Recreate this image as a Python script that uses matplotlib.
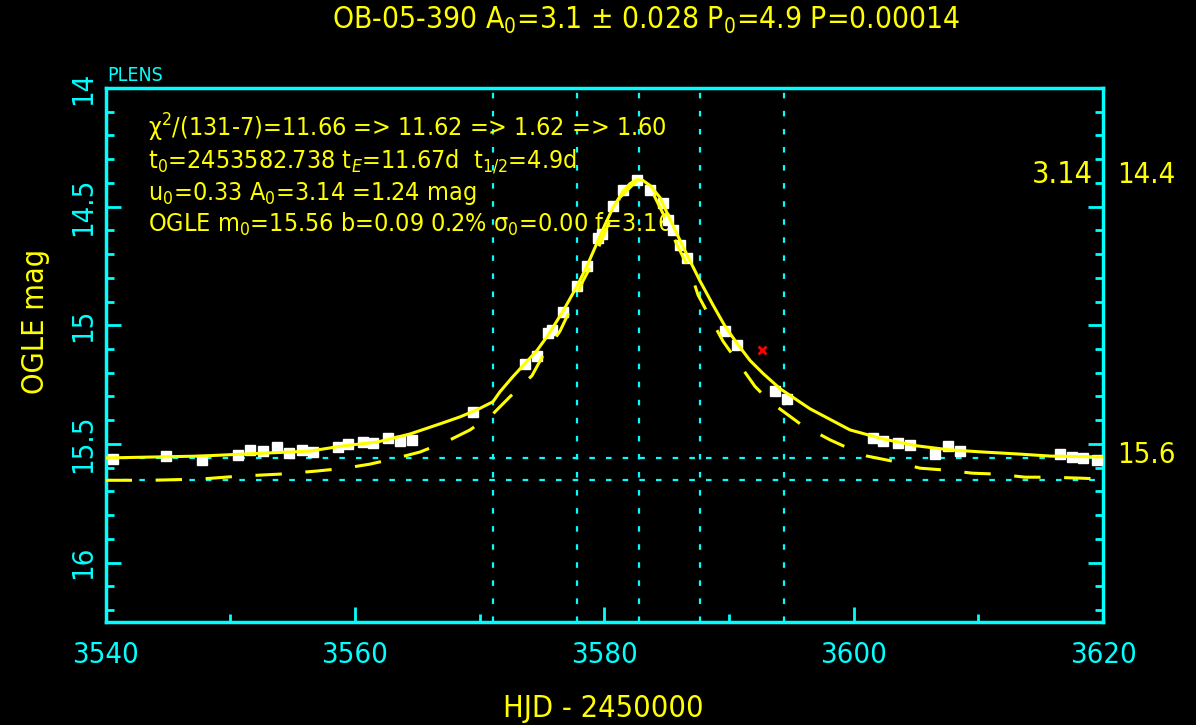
import numpy as np
import matplotlib
matplotlib.use('Agg')
import matplotlib.pyplot as plt
from matplotlib.ticker import MultipleLocator

plt.rcParams['font.family'] = ['DejaVu Sans']
plt.rcParams['font.stretch'] = 'condensed'
plt.rcParams['mathtext.fontset'] = 'custom'
plt.rcParams['mathtext.rm'] = 'DejaVu Sans:stretch=condensed'
plt.rcParams['mathtext.it'] = 'DejaVu Sans:italic:stretch=condensed'
plt.rcParams['lines.scale_dashes'] = False

CYAN = '#00ffff'
YEL = '#ffff00'

# OGLE photometry (HJD - 2450000, mag, err)
hjd = [3540.59, 3544.84, 3547.73, 3550.62, 3551.58, 3552.62, 3553.74, 3554.71,
       3555.75, 3556.63, 3558.64, 3559.44, 3560.64, 3561.44, 3562.65, 3563.61,
       3564.57, 3569.47, 3573.64, 3574.60, 3575.48, 3575.80, 3576.68, 3577.81,
       3578.61, 3579.49, 3579.81, 3580.70, 3581.49, 3582.62, 3583.67, 3584.71,
       3585.11, 3585.51, 3586.07, 3586.63, 3589.68, 3590.64, 3593.68, 3594.64,
       3601.54, 3602.34, 3603.55, 3604.51, 3606.52, 3607.56, 3608.52, 3616.54,
       3617.50, 3618.38, 3619.50]
mag = [15.564, 15.551, 15.568, 15.547, 15.525, 15.530, 15.513, 15.538,
       15.525, 15.534, 15.513, 15.500, 15.492, 15.496, 15.475, 15.487,
       15.483, 15.364, 15.161, 15.131, 15.034, 15.021, 14.945, 14.835,
       14.750, 14.631, 14.614, 14.496, 14.432, 14.386, 14.432, 14.483,
       14.555, 14.597, 14.661, 14.716, 15.025, 15.085, 15.275, 15.309,
       15.475, 15.487, 15.496, 15.504, 15.542, 15.508, 15.530, 15.542,
       15.555, 15.559, 15.568]
err = [0.012, 0.015, 0.012, 0.012, 0.018, 0.012, 0.018, 0.012,
       0.015, 0.012, 0.012, 0.015, 0.012, 0.012, 0.015, 0.012,
       0.012, 0.012, 0.010, 0.010, 0.010, 0.010, 0.010, 0.010,
       0.010, 0.010, 0.010, 0.010, 0.010, 0.008, 0.008, 0.010,
       0.010, 0.010, 0.010, 0.010, 0.010, 0.010, 0.010, 0.010,
       0.012, 0.012, 0.012, 0.012, 0.012, 0.015, 0.012, 0.015,
       0.012, 0.012, 0.012]

# rejected point
bad_hjd = [3592.64]
bad_mag = [15.106]

# fitted model curve (solid)
fit_t = [3540.0, 3547.57, 3556.39, 3559.04, 3561.77, 3564.41, 3567.06, 3568.42,
         3569.79, 3571.07, 3571.63, 3572.67, 3573.64, 3574.60, 3575.48, 3576.68,
         3577.81, 3578.61, 3579.49, 3580.05, 3580.70, 3581.49, 3582.06, 3582.62,
         3583.10, 3583.67, 3584.47, 3585.51, 3586.63, 3587.68, 3588.72, 3589.68,
         3590.64, 3591.68, 3592.73, 3594.09, 3596.50, 3599.71, 3602.36, 3605.08,
         3607.73, 3610.38, 3613.10, 3615.75, 3620.0]
fit_mag = [15.559, 15.551, 15.530, 15.508, 15.492, 15.458, 15.411, 15.386,
           15.356, 15.322, 15.280, 15.216, 15.161, 15.106, 15.042, 14.941,
           14.835, 14.750, 14.644, 14.576, 14.504, 14.436, 14.403, 14.386,
           14.390, 14.411, 14.462, 14.581, 14.703, 14.814, 14.915, 15.004,
           15.076, 15.148, 15.203, 15.267, 15.352, 15.441, 15.479, 15.508,
           15.525, 15.534, 15.542, 15.551, 15.555]

# unblended model curve (dashed)
alt_t = [3540.0, 3543.56, 3547.57, 3550.62, 3553.99, 3556.95, 3559.20, 3561.20,
         3563.37, 3565.21, 3567.46, 3569.22, 3571.07, 3572.43, 3574.20, 3575.08,
         3576.44, 3577.40, 3578.28, 3578.84, 3580.20, 3581.24, 3582.62, 3583.67,
         3584.87, 3585.83, 3586.88, 3587.52, 3588.64, 3589.53, 3590.89, 3592.09,
         3593.29, 3595.70, 3598.11, 3599.71, 3601.07, 3603.08, 3605.32, 3607.33,
         3609.50, 3611.50, 3613.75, 3615.75, 3618.16, 3620.0]
alt_mag = [15.653, 15.653, 15.648, 15.636, 15.627, 15.614, 15.602, 15.585,
           15.559, 15.534, 15.487, 15.441, 15.373, 15.301, 15.212, 15.127,
           15.025, 14.919, 14.814, 14.758, 14.589, 14.462, 14.390, 14.419,
           14.547, 14.661, 14.771, 14.873, 14.983, 15.068, 15.169, 15.258,
           15.322, 15.415, 15.483, 15.521, 15.551, 15.572, 15.602, 15.610,
           15.623, 15.627, 15.640, 15.640, 15.644, 15.648]

vlines = [3571.07, 3577.84, 3582.74, 3587.64, 3594.41]
hlines = [15.56, 15.65]

fig = plt.figure(figsize=(11.96, 7.25), dpi=100, facecolor='black')
ax = fig.add_axes([0.0883, 0.1421, 0.834, 0.7366], facecolor='black')

for v in vlines:
    ax.axvline(v, color=CYAN, lw=1.6, dashes=(4, 9), zorder=1)
for h in hlines:
    ax.axhline(h, color=CYAN, lw=1.6, dashes=(4, 8), zorder=1)

ax.errorbar(hjd, mag, yerr=err, fmt='s', color='white', ms=7, mec='white',
            ecolor='white', elinewidth=1.5, capsize=0, zorder=3)
ax.plot(bad_hjd, bad_mag, 'x', color='red', ms=6, mew=2, zorder=3)

ax.plot(fit_t, fit_mag, color=YEL, lw=2.2, zorder=4)
ax.plot(alt_t, alt_mag, color=YEL, lw=2.2, dashes=(19, 17), zorder=4)

ax.set_xlim(3540, 3620)
ax.set_ylim(16.25, 14.0)
ax.xaxis.set_major_locator(MultipleLocator(20))
ax.xaxis.set_minor_locator(MultipleLocator(10))
ax.yaxis.set_major_locator(MultipleLocator(0.5))
ax.yaxis.set_minor_locator(MultipleLocator(0.1))
ax.tick_params(which='both', direction='in', colors=CYAN, top=False, right=True,
               width=2)
ax.tick_params(which='major', length=11)
ax.tick_params(which='minor', length=6)
ax.tick_params(axis='x', labelsize=21, pad=14)
ax.tick_params(axis='y', labelsize=21, pad=6)
ax.set_yticks([14, 14.5, 15, 15.5, 16])
ax.set_yticklabels(['14', '14.5', '15', '15.5', '16'], rotation=90, va='center')
for s in ax.spines.values():
    s.set_color(CYAN)
    s.set_linewidth(2.5)

ax.set_xlabel('HJD - 2450000', color=YEL, fontsize=22)
ax.xaxis.set_label_coords(0.499, -0.135)
ax.set_ylabel('OGLE mag', color=YEL, fontsize=22)
ax.yaxis.set_label_coords(-0.056, 0.562)

fig.text(0.540, 0.972, r'OB-05-390 A$_0$=3.1 ± 0.028 P$_0$=4.9 P=0.00014',
         color=YEL, fontsize=21.5, ha='center', va='center')
ax.text(0.002, 1.005, 'PLENS', transform=ax.transAxes, color=CYAN, fontsize=14,
        ha='left', va='bottom')

info = [r'χ$^2$/(131-7)=11.66 => 11.62 => 1.62 => 1.60',
        r't$_0$=2453582.738 t$_E$=11.67d  t$_{1/2}$=4.9d',
        r'u$_0$=0.33 A$_0$=3.14 =1.24 mag',
        r'OGLE m$_0$=15.56 b=0.09 0.2% σ$_0$=0.00 f=3.16']
ypos = [0.926, 0.862, 0.802, 0.745]
for line, yy in zip(info, ypos):
    ax.text(0.043, yy, line, transform=ax.transAxes, color=YEL, fontsize=18,
            ha='left', va='center')

ytr = ax.get_yaxis_transform()
ax.text(0.99, 14.4, '3.14', transform=ytr, color=YEL, fontsize=22,
        ha='right', va='baseline')
ax.text(1.014, 14.4, '14.4', transform=ytr, color=YEL, fontsize=21,
        ha='left', va='baseline')
ax.text(1.014, 15.58, '15.6', transform=ytr, color=YEL, fontsize=21,
        ha='left', va='baseline')

fig.savefig('out.png', dpi=100, facecolor='black')
